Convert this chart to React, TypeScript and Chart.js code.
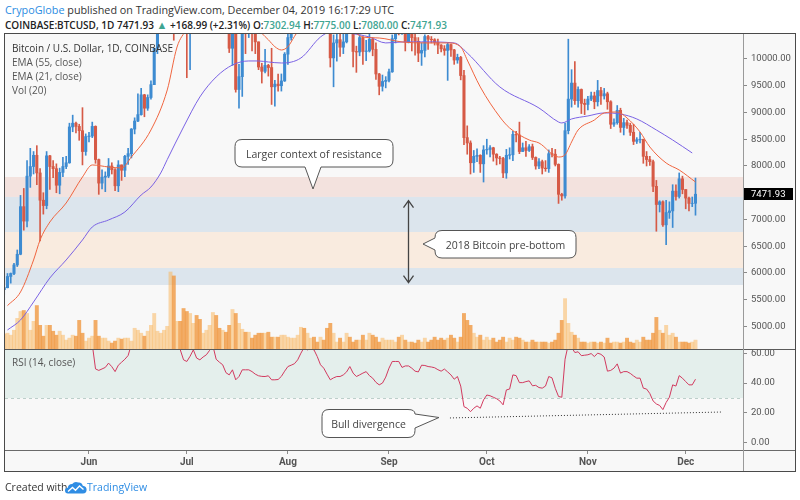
import React, { useEffect, useRef } from 'react';
import { Chart, registerables } from 'chart.js';

Chart.register(...registerables);

// ---------------- data (day index 0 = 2019-05-06, daily candles) ----------------
const firstDay = '2019-05-06';

const opens = [
  5690, 5725, 5935, 5990, 6150, 6350, 7240, 6970, 7810, 7990,
  8200, 7870, 7360, 7260, 8190, 7990, 7950, 7640, 7880, 7990,
  8060, 8730, 8800, 8740, 8660, 8270, 8550, 8560, 8740, 8120,
  7680, 7790, 7810, 8000, 7930, 7630, 8020, 7920, 8180, 8230,
  8690, 8840, 8960, 9330, 9080, 9280, 9520, 10200, 10700, 10850,
  11020, 11770, 12920, 11160, 12370, 11880, 10820, 10580, 10800, 11980,
  11160, 11000, 11240, 11480, 12300, 12560, 12110, 11350, 11800, 11380,
  10200, 10860, 9430, 9670, 10640, 10530, 10760, 10590, 10320, 9850,
  9770, 9880, 9840, 9480, 9530, 9500, 9590, 10090, 10400, 10530,
  10820, 10980, 11800, 11470, 11980, 11990, 11860, 11290, 11550, 11390,
  10860, 10020, 10300, 10360, 10220, 10320, 10920, 10760, 10140, 10130,
  10400, 10140, 10150, 10370, 10180, 9720, 9490, 9580, 9600, 9760,
  10380, 10620, 10580, 10590, 10320, 10490, 10400, 10330, 10110, 10160,
  10420, 10370, 10360, 10310, 10260, 10190, 10160, 10270, 10170, 9980,
  10030, 9690, 8530, 8430, 8060, 8180, 8200, 8040, 8300, 8310,
  8340, 8220, 8150, 8140, 7870, 8200, 8210, 8590, 8580, 8270,
  8340, 8290, 8360, 8160, 8000, 8080, 7960, 7950, 8230, 8220,
  8030, 7470, 7440, 8660, 9250, 9550, 9220, 9430, 9170, 9150,
  9250, 9310, 9200, 9410, 9310, 9350, 9200, 8780, 8810, 9040,
  8720, 8810, 8760, 8630, 8460, 8490, 8500, 8180, 8120, 8080,
  7620, 7280, 7330, 6900, 7130, 7160, 7530, 7430, 7760, 7560,
  7400, 7300, 7302.94,
];
const highs = [
  5800, 5990, 6000, 6180, 6430, 7450, 7580, 8100, 8330, 8270,
  8380, 7950, 7500, 8270, 8200, 8100, 8040, 7960, 8160, 8180,
  8800, 8950, 8820, 8780, 9090, 8600, 8630, 8820, 8750, 8130,
  7930, 7890, 8140, 8060, 7950, 8100, 8020, 8200, 8330, 8700,
  8900, 9350, 9450, 9340, 9330, 9590, 10200, 11200, 11300, 11100,
  11790, 13880, 13400, 12400, 12400, 12200, 11200, 10950, 12000, 12050,
  11450, 11650, 11600, 12350, 12800, 13200, 12120, 11930, 11850, 11450,
  11100, 11030, 9900, 10770, 10740, 11100, 10840, 10680, 10320, 9920,
  10180, 9900, 10200, 9600, 9720, 9720, 10120, 10480, 10680, 10920,
  11100, 12000, 12300, 12100, 12050, 12000, 11950, 11600, 11550, 11470,
  10880, 10450, 10530, 10460, 10480, 10950, 10950, 10770, 10240, 10450,
  10420, 10350, 10620, 10400, 10300, 9730, 9700, 9670, 9810, 10450,
  10800, 10780, 10650, 10890, 10580, 10600, 10490, 10400, 10300, 10450,
  10440, 10420, 10380, 10370, 10270, 10250, 10300, 10280, 10180, 10090,
  10050, 9790, 8750, 8470, 8290, 8320, 8210, 8380, 8500, 8380,
  8350, 8230, 8180, 8160, 8310, 8340, 8650, 8650, 8820, 8430,
  8460, 8400, 8410, 8170, 8140, 8110, 8100, 8300, 8330, 8310,
  8040, 7490, 8800, 10370, 9800, 9950, 9480, 9440, 9250, 9300,
  9380, 9380, 9600, 9470, 9450, 9380, 9220, 8880, 9130, 9080,
  8890, 8860, 8800, 8780, 8530, 8630, 8500, 8270, 8180, 8110,
  7730, 7350, 7350, 7360, 7330, 7650, 7650, 7870, 7810, 7560,
  7420, 7420, 7775,
];
const lows = [
  5600, 5720, 5810, 5970, 6120, 6340, 6800, 6860, 7600, 7850,
  7650, 6600, 7100, 7200, 7560, 7780, 7500, 7480, 7800, 7950,
  8050, 8640, 8620, 8480, 8020, 8200, 8450, 8530, 8050, 7470,
  7570, 7520, 7780, 7850, 7540, 7520, 7730, 7800, 8030, 8150,
  8600, 8830, 8950, 8920, 9040, 9250, 9520, 10100, 10550, 10600,
  11000, 11700, 10350, 10850, 11500, 10800, 9650, 9800, 10780, 11050,
  10800, 10980, 11000, 11400, 12150, 11600, 11000, 11100, 10850, 10120,
  9880, 9380, 9080, 9300, 10100, 10400, 10150, 10100, 9800, 9550,
  9740, 9680, 9150, 9120, 9400, 9400, 9580, 9900, 10350, 10510,
  10560, 10980, 11250, 11400, 11600, 11700, 11150, 11120, 11250, 10800,
  9850, 9480, 9960, 10050, 10100, 10300, 10600, 9850, 9750, 10060,
  9900, 9970, 10130, 10060, 9620, 9330, 9400, 9460, 9570, 9750,
  10300, 10450, 10460, 10150, 10300, 10150, 10070, 9950, 9880, 10040,
  10180, 10300, 10260, 10100, 10130, 10070, 9600, 10050, 9900, 9920,
  9610, 8400, 8220, 7850, 7880, 8080, 7880, 7700, 8220, 8170,
  8090, 8020, 8040, 7780, 7770, 8130, 8100, 8450, 8230, 8270,
  8180, 8270, 8120, 7940, 7950, 7850, 7900, 7880, 8170, 8000,
  7300, 7360, 7400, 8600, 9100, 9150, 9100, 8980, 8960, 9050,
  9220, 9070, 9120, 9150, 9250, 9060, 8700, 8740, 8780, 8630,
  8580, 8700, 8570, 8400, 8420, 8430, 8050, 8000, 8010, 7520,
  6780, 7140, 6870, 6530, 7020, 6850, 7360, 7400, 7480, 7200,
  7160, 7240, 7080,
];
const closes = [
  5725, 5935, 5990, 6150, 6350, 7240, 6970, 7810, 7990, 8200,
  7870, 7360, 7260, 8190, 7990, 7950, 7640, 7880, 7990, 8060,
  8730, 8800, 8740, 8660, 8270, 8550, 8560, 8740, 8120, 7680,
  7790, 7810, 8000, 7930, 7630, 8020, 7920, 8180, 8230, 8690,
  8840, 8960, 9330, 9080, 9280, 9520, 10200, 10700, 10850, 11020,
  11770, 12920, 11160, 12370, 11880, 10820, 10580, 10800, 11980, 11160,
  11000, 11240, 11480, 12300, 12560, 12110, 11350, 11800, 11380, 10200,
  10860, 9430, 9670, 10640, 10530, 10760, 10590, 10320, 9850, 9770,
  9880, 9840, 9480, 9530, 9500, 9590, 10090, 10400, 10530, 10820,
  10980, 11800, 11470, 11980, 11990, 11860, 11290, 11550, 11390, 10860,
  10020, 10300, 10360, 10220, 10320, 10920, 10760, 10140, 10130, 10400,
  10140, 10150, 10370, 10180, 9720, 9490, 9580, 9600, 9760, 10380,
  10620, 10580, 10590, 10320, 10490, 10400, 10330, 10110, 10160, 10420,
  10370, 10360, 10310, 10260, 10190, 10160, 10270, 10170, 9980, 10030,
  9690, 8530, 8430, 8060, 8180, 8200, 8040, 8300, 8310, 8340,
  8220, 8150, 8140, 7870, 8200, 8210, 8590, 8580, 8270, 8340,
  8290, 8360, 8160, 8000, 8080, 7960, 7950, 8230, 8220, 8030,
  7470, 7440, 8660, 9250, 9550, 9220, 9430, 9170, 9150, 9250,
  9310, 9200, 9410, 9310, 9350, 9200, 8780, 8810, 9040, 8720,
  8810, 8760, 8630, 8460, 8490, 8500, 8180, 8120, 8080, 7620,
  7280, 7330, 6900, 7130, 7160, 7530, 7430, 7760, 7560, 7400,
  7300, 7302.94, 7471.93,
];
// daily volume (thousand BTC)
const volumes = [
  15, 16, 14, 19, 31, 38, 39, 36, 19, 28,
  44, 24, 13, 24, 24, 18, 14, 18, 14, 9,
  11, 14, 13, 29, 16, 8, 11, 13, 29, 13,
  11, 11, 8, 6, 8, 11, 10, 11, 11, 8,
  21, 19, 16, 13, 18, 24, 36, 18, 16, 19,
  23, 78, 74, 28, 28, 41, 38, 36, 26, 34,
  30, 16, 19, 24, 37, 34, 21, 19, 17, 24,
  40, 36, 26, 20, 17, 17, 11, 14, 16, 16,
  16, 17, 12, 12, 12, 14, 14, 12, 11, 11,
  14, 22, 21, 16, 11, 12, 7, 12, 9, 21,
  26, 16, 7, 11, 7, 16, 12, 7, 9, 9,
  14, 9, 16, 14, 12, 7, 11, 9, 9, 9,
  7, 12, 14, 9, 7, 7, 6, 9, 7, 11,
  7, 9, 12, 9, 11, 9, 11, 14, 11, 7,
  12, 36, 29, 24, 16, 12, 14, 9, 12, 9,
  11, 7, 9, 12, 7, 11, 9, 12, 11, 9,
  7, 7, 9, 7, 7, 7, 7, 6, 7, 9,
  16, 29, 51, 26, 17, 14, 11, 7, 7, 6,
  7, 7, 6, 7, 6, 11, 6, 7, 7, 6,
  7, 11, 7, 6, 9, 7, 12, 9, 9, 16,
  32, 19, 16, 24, 14, 16, 12, 7, 7, 7,
  6, 7, 9,
];
// RSI (14, close)
const rsi = [
  72, 74, 74, 76, 78, 84, 79, 85, 86, 87,
  82, 73, 71, 79, 76, 75, 70, 73, 74, 75,
  80, 81, 80, 78, 70, 73, 67, 66,
  49.5, 48.5, 49.5, 50.5, 53.4, 51, 47.7, 52, 54, 56, 58.5,
  66, 68, 70, 72, 71, 73, 75, 80, 82, 83, 84, 86, 78, 81,
  66,
  62.3, 55.6, 54.5, 58, 62.3, 56.8, 55.6, 57.5, 59, 62, 65,
  56, 54, 52.3, 47, 45.5, 48.9, 42.2, 44.4, 48.9, 48.9, 48.9, 47.7, 46, 44.9,
  44.5, 44.4, 44.9, 42.2, 42.2, 42.4, 44.5, 48, 51.1, 52, 53, 55.6, 60.1,
  64, 62.3, 63, 62.3, 57.8, 52.3, 50, 46,
  42.2, 43.5, 44.4, 44.4, 45.5, 47.5, 51.1, 46.7, 44.4, 45.5, 46.7, 47.7, 45, 43.3, 40.5, 38.8, 40, 44, 50, 54.5, 54.5,
  54.5, 50.5, 51.5, 51.5, 50, 48, 47.5, 52, 51.8, 51.1, 50.8, 50.3, 49, 48, 49.4, 47.5, 45.5, 42.6, 44.4, 38,
  24.2, 23.1, 20.8, 23.1, 24.7, 23.1, 28.7, 32, 31.5, 30.5, 29.5, 28, 25.4,
  35.4, 36, 45.5, 45, 40.3, 40.3, 41, 41.5, 38.2, 38.5, 37, 36.6, 38, 44.4, 43.5, 36.5, 31, 30.5,
  56, 66, 64, 60.5, 61, 58.4, 58.7, 59, 59.8, 57.8, 60.1, 59.3, 57.5,
  48, 48.5, 50, 52.9, 46.7, 47.7, 47.7, 46.5, 44.8, 43.3, 43.3,
  36.6, 36, 33, 28, 26, 25, 22.2, 27, 30.5, 38.8, 38, 45, 43.3, 41, 38.8, 38.8, 42.6,
];
// EMA readings (day index, value)
const ema21Days = [1, 5, 9, 11, 14, 19, 24, 27, 32, 36, 39, 45, 50, 53, 56, 60, 66, 72, 76, 79, 81, 83, 85, 87, 89, 91, 100, 105, 108, 110, 115, 122, 129, 136, 140, 142, 146, 152, 155, 161, 164, 170, 172, 174, 176, 181, 184, 188, 191, 195, 198, 203, 207, 212];
const ema21Vals = [5390, 5645, 6243, 6617, 6953, 7308, 7794, 8019, 7981, 7963, 8168, 8673, 9421, 10224, 10560, 10950, 11300, 11050, 10700, 10480, 10360, 10230, 10168, 10230, 10420, 10600, 10950, 10650, 10480, 10411, 10392, 10318, 10300, 10300, 10224, 9981, 9477, 8916, 8710, 8486, 8430, 8168, 8210, 8449, 8673, 8860, 8991, 9009, 8897, 8636, 8355, 8056, 7925, 7701];
const ema55Days = [1, 5, 9, 14, 19, 24, 27, 32, 37, 42, 45, 48, 50, 55, 60, 65, 70, 75, 78, 81, 85, 91, 97, 100, 106, 112, 117, 122, 128, 138, 142, 152, 164, 170, 171, 174, 179, 184, 189, 194, 200, 205, 211];
const ema55Vals = [4935, 5121, 5458, 5907, 6243, 6617, 6860, 6991, 7140, 7458, 7607, 7869, 8120, 8729, 9290, 9664, 9888, 9963, 9963, 9944, 9925, 10019, 10411, 10500, 10480, 10411, 10300, 10318, 10320, 10300, 10112, 9477, 9084, 8822, 8804, 8879, 8935, 8991, 8972, 8879, 8673, 8486, 8243];

const monthTickDays = [26, 56, 87, 118, 148, 179, 209];
const monthLabels = ['Jun', 'Jul', 'Aug', 'Sep', 'Oct', 'Nov', 'Dec'];
const priceTicks = [5000, 5500, 6000, 6500, 7000, 7500, 8000, 8500, 9000, 9500, 10000];
const rsiTicks = [0, 20, 40, 60];
const rsiBandLow = 30;
const rsiBandHigh = 70;

// horizontal price zones
const zoneHighs = [7794, 7421, 6766, 6093];
const zoneLows = [7421, 6766, 6093, 5776];
const zoneColors = ['#f3e2de', '#dce5ed', '#f9ebdf', '#dce5ed'];

// annotations
const arrowDay = 123.8;
const arrowTop = 7351;
const arrowBottom = 5819;
const divergenceDays = [136.7, 220.4];
const divergenceVals = [16.6, 20.6];

// ---------------- view settings ----------------
const X_MIN = 0.24;
const X_MAX = 226.57;
const PRICE_MIN = 4579;
const PRICE_MAX = 10467;
const VOL_MAX = 319;
const RSI_MIN = -4.9;
const RSI_MAX = 62.2;

const UP = '#3d8bd1';
const DOWN = '#d65a46';
const VOL_UP = 'rgba(250,180,90,0.52)';
const VOL_DOWN = 'rgba(240,150,60,0.78)';
const AXIS_FONT = { family: 'Roboto, "Liberation Sans", sans-serif', size: 9.5 };
const TEXT_FONT = '"Open Sans", "Noto Sans", sans-serif';

function fitVertical(scale: any) {
  scale.width = 52;
  scale.paddingTop = 0;
  scale.paddingBottom = 0;
}

const zonesPlugin = {
  id: 'zones',
  beforeDatasetsDraw(chart: any) {
    const { ctx, chartArea: a, scales } = chart;
    const y = scales.y;
    ctx.save();
    zoneHighs.forEach((hi, k) => {
      const t = y.getPixelForValue(hi);
      const b = y.getPixelForValue(zoneLows[k]);
      ctx.fillStyle = zoneColors[k];
      ctx.fillRect(a.left, t, a.right - a.left, b - t);
    });
    ctx.restore();
  },
};

const arrowPlugin = {
  id: 'arrow',
  afterDatasetsDraw(chart: any) {
    const { ctx, scales } = chart;
    const x = Math.round(scales.x.getPixelForValue(arrowDay)) + 0.5;
    const t = scales.y.getPixelForValue(arrowTop);
    const b = scales.y.getPixelForValue(arrowBottom);
    ctx.save();
    ctx.strokeStyle = '#444';
    ctx.lineWidth = 1.3;
    ctx.beginPath();
    ctx.moveTo(x, t);
    ctx.lineTo(x, b);
    ctx.moveTo(x - 5, t + 7);
    ctx.lineTo(x, t);
    ctx.lineTo(x + 5, t + 7);
    ctx.moveTo(x - 5, b - 7);
    ctx.lineTo(x, b);
    ctx.lineTo(x + 5, b - 7);
    ctx.stroke();
    ctx.restore();
  },
};

const lastPricePlugin = {
  id: 'lastPrice',
  afterDraw(chart: any) {
    const { ctx, chartArea: a, scales } = chart;
    const v = closes[closes.length - 1];
    const y = Math.round(scales.y.getPixelForValue(v));
    ctx.save();
    ctx.fillStyle = '#000';
    ctx.fillRect(a.right + 1, y - 6, 49, 12);
    ctx.fillStyle = '#fff';
    ctx.font = '9.5px Roboto, "Liberation Sans", sans-serif';
    ctx.textBaseline = 'middle';
    ctx.textAlign = 'left';
    ctx.fillText(v.toFixed(2), a.right + 8, y + 0.5);
    ctx.restore();
  },
};

const rsiBandPlugin = {
  id: 'rsiBand',
  beforeDatasetsDraw(chart: any) {
    const { ctx, chartArea: a, scales } = chart;
    const y = scales.y;
    const t = Math.max(y.getPixelForValue(rsiBandHigh), a.top);
    const b = y.getPixelForValue(rsiBandLow);
    ctx.save();
    ctx.fillStyle = '#e4efec';
    ctx.fillRect(a.left, t, a.right - a.left, b - t);
    ctx.strokeStyle = '#bccfca';
    ctx.lineWidth = 1;
    ctx.setLineDash([3, 3]);
    ctx.beginPath();
    ctx.moveTo(a.left, Math.round(b) + 0.5);
    ctx.lineTo(a.right, Math.round(b) + 0.5);
    ctx.stroke();
    ctx.restore();
  },
};

export default function App() {
  const topRef = useRef<HTMLCanvasElement>(null);
  const botRef = useRef<HTMLCanvasElement>(null);

  useEffect(() => {
    const days = closes.map((_, i) => i);
    const candleColors = days.map((i) => (closes[i] >= opens[i] ? UP : DOWN));
    const volColors = days.map((i) => (closes[i] >= opens[i] ? VOL_UP : VOL_DOWN));

    const top = new Chart(topRef.current as HTMLCanvasElement, {
      type: 'bar',
      data: {
        datasets: [
          {
            type: 'line',
            label: 'EMA (21, close)',
            data: ema21Days.map((d, k) => ({ x: d, y: ema21Vals[k] })),
            borderColor: '#f0653f',
            borderWidth: 1,
            pointRadius: 0,
            cubicInterpolationMode: 'monotone',
            yAxisID: 'y',
            order: 0,
          } as any,
          {
            type: 'line',
            label: 'EMA (55, close)',
            data: ema55Days.map((d, k) => ({ x: d, y: ema55Vals[k] })),
            borderColor: '#7a62e4',
            borderWidth: 1,
            pointRadius: 0,
            cubicInterpolationMode: 'monotone',
            yAxisID: 'y',
            order: 0,
          } as any,
          {
            type: 'bar',
            label: 'body',
            data: days.map((i) => ({ x: i, y: [opens[i], closes[i]] })),
            backgroundColor: candleColors,
            barThickness: 2.4,
            grouped: false,
            yAxisID: 'y',
            order: 1,
          } as any,
          {
            type: 'bar',
            label: 'wick',
            data: days.map((i) => ({ x: i, y: [lows[i], highs[i]] })),
            backgroundColor: candleColors,
            barThickness: 1,
            grouped: false,
            yAxisID: 'y',
            order: 2,
          } as any,
          {
            type: 'bar',
            label: 'Vol (20)',
            data: days.map((i) => ({ x: i, y: volumes[i] })),
            backgroundColor: volColors,
            barThickness: 3.26,
            grouped: false,
            yAxisID: 'yVol',
            order: 3,
          } as any,
        ],
      },
      options: {
        animation: false,
        responsive: false,
        maintainAspectRatio: false,
        events: [],
        layout: { padding: 0 },
        plugins: { legend: { display: false }, tooltip: { enabled: false } },
        scales: {
          x: { type: 'linear', min: X_MIN, max: X_MAX, display: false, offset: false, grid: { offset: false } },
          y: {
            type: 'linear',
            position: 'right',
            min: PRICE_MIN,
            max: PRICE_MAX,
            afterBuildTicks: (ax: any) => {
              ax.ticks = priceTicks.map((v) => ({ value: v }));
            },
            afterFit: fitVertical,
            grid: { drawOnChartArea: false, drawTicks: true, tickLength: 4, color: '#8a8a8a' },
            border: { display: false },
            ticks: {
              padding: 4,
              color: '#555',
              font: AXIS_FONT,
              autoSkip: false,
              callback: (v: any) => Number(v).toFixed(2),
            },
          },
          yVol: { type: 'linear', display: false, min: 0, max: VOL_MAX },
        },
      } as any,
      plugins: [zonesPlugin, arrowPlugin, lastPricePlugin],
    });

    const bot = new Chart(botRef.current as HTMLCanvasElement, {
      type: 'line',
      data: {
        datasets: [
          {
            label: 'RSI (14, close)',
            data: days.map((i) => ({ x: i, y: rsi[i] })),
            borderColor: '#d23a5f',
            borderWidth: 1,
            pointRadius: 0,
          },
          {
            label: 'Bull divergence',
            data: divergenceDays.map((d, k) => ({ x: d, y: divergenceVals[k] })),
            borderColor: '#333',
            borderWidth: 1,
            borderDash: [1, 2],
            pointRadius: 0,
          },
        ],
      },
      options: {
        animation: false,
        responsive: false,
        maintainAspectRatio: false,
        events: [],
        layout: { padding: { top: 10, left: 0, right: 0, bottom: 0 } },
        plugins: { legend: { display: false }, tooltip: { enabled: false } },
        scales: {
          x: {
            type: 'linear',
            min: X_MIN,
            max: X_MAX,
            offset: false,
            afterBuildTicks: (ax: any) => {
              ax.ticks = monthTickDays.map((v) => ({ value: v }));
            },
            afterFit: (s: any) => {
              s.height = 20;
              s.paddingLeft = 0;
              s.paddingRight = 0;
            },
            grid: { drawOnChartArea: false, drawTicks: true, tickLength: 4, color: '#8a8a8a' },
            border: { display: false },
            ticks: {
              padding: 2,
              color: '#555',
              font: { ...AXIS_FONT, size: 10, weight: 'bold' },
              autoSkip: false,
              maxRotation: 0,
              callback: (v: any) => {
                const k = monthTickDays.indexOf(Number(v));
                return k >= 0 ? monthLabels[k] : '';
              },
            },
          },
          y: {
            type: 'linear',
            position: 'right',
            min: RSI_MIN,
            max: RSI_MAX,
            afterBuildTicks: (ax: any) => {
              ax.ticks = rsiTicks.map((v) => ({ value: v }));
            },
            afterFit: fitVertical,
            grid: { drawOnChartArea: false, drawTicks: true, tickLength: 4, color: '#8a8a8a' },
            border: { display: false },
            ticks: {
              padding: 4,
              color: '#555',
              font: AXIS_FONT,
              autoSkip: false,
              callback: (v: any) => Number(v).toFixed(2),
            },
          },
        },
      } as any,
      plugins: [rsiBandPlugin],
    });

    return () => {
      top.destroy();
      bot.destroy();
    };
  }, []);

  const abs = (s: React.CSSProperties): React.CSSProperties => ({ position: 'absolute', ...s });
  const teal = '#3fa592';

  return (
    <div
      style={{
        position: 'fixed',
        left: 0,
        top: 0,
        width: 800,
        height: 500,
        background: '#fff',
        overflow: 'hidden',
        fontFamily: TEXT_FONT,
      }}
    >
      {/* header */}
      <div style={abs({ left: 5, top: 2, fontSize: 10.8, lineHeight: '15px', color: '#333', whiteSpace: 'nowrap' })}>
        <span style={{ color: '#2a8ce2' }}>CrypoGlobe</span> published on TradingView.com, December 04, 2019 16:17:29 UTC
      </div>
      <div style={abs({ left: 5, top: 17, fontSize: 10, lineHeight: '15px', color: '#222', fontWeight: 600, whiteSpace: 'nowrap' })}>
        COINBASE:BTCUSD, 1D 7471.93 <span style={{ color: teal, fontSize: 11 }}>▲</span> +168.99 (+2.31%) O:<span style={{ color: teal }}>7302.94</span> H:
        <span style={{ color: teal }}>7775.00</span> L:<span style={{ color: teal }}>7080.00</span> C:
        <span style={{ color: teal }}>7471.93</span>
      </div>

      {/* frame */}
      <div
        style={abs({
          left: 4,
          top: 33,
          width: 792,
          height: 439,
          border: '1px solid #4a4a4a',
          boxSizing: 'border-box',
          background: '#f8f8f8',
        })}
      />
      <canvas ref={topRef} width={790} height={315} style={abs({ left: 5, top: 34, width: 790, height: 315 })} />
      <canvas ref={botRef} width={790} height={130} style={abs({ left: 5, top: 340, width: 790, height: 130 })} />

      {/* pane separators and price-axis line */}
      <div style={abs({ left: 5, top: 349, width: 790, height: 1, background: '#5a5a5a' })} />
      <div style={abs({ left: 5, top: 450, width: 790, height: 1, background: '#6a6a6a' })} />
      <div style={abs({ left: 743, top: 34, width: 1, height: 437, background: '#9a9a9a' })} />

      {/* pane legends */}
      <div style={abs({ left: 12, top: 41, fontSize: 10, lineHeight: '14px', color: '#333', whiteSpace: 'nowrap' })}>
        <div>Bitcoin / U.S. Dollar, 1D, COINBASE</div>
        <div style={{ color: '#555' }}>EMA (55, close)</div>
        <div style={{ color: '#555' }}>EMA (21, close)</div>
        <div style={{ color: '#555' }}>Vol (20)</div>
      </div>
      <div style={abs({ left: 12, top: 355, fontSize: 10, lineHeight: '14px', color: '#555', whiteSpace: 'nowrap' })}>
        RSI (14, close)
      </div>

      {/* callouts */}
      <svg width={800} height={500} style={abs({ left: 0, top: 0, pointerEvents: 'none' })}>
        <g fill="#fff" stroke="#555" strokeWidth={1}>
          <path d="M242 139.5 H386 Q393 139.5 393 146.5 V160 Q393 167 386 167 H321 L313 189 L305 167 H242 Q235 167 235 160 V146.5 Q235 139.5 242 139.5 Z" />
          <path d="M442 230.5 H569 Q576 230.5 576 237.5 V251 Q576 258 569 258 H442 Q435 258 435 251 V250 L423 244 L435 238 V237.5 Q435 230.5 442 230.5 Z" />
          <path d="M329 409.5 H408 Q415 409.5 415 414 L439 417.5 L415 428 V430.5 Q415 437.5 408 437.5 H329 Q322 437.5 322 430.5 V416.5 Q322 409.5 329 409.5 Z" />
        </g>
        <g fill="#444" fontFamily={TEXT_FONT} fontSize={10.5} textAnchor="middle" dominantBaseline="central">
          <text x={314} y={153.5}>Larger context of resistance</text>
          <text x={505.5} y={244.5}>2018 Bitcoin pre-bottom</text>
          <text x={368.5} y={423.5}>Bull divergence</text>
        </g>
      </svg>

      {/* footer */}
      <div style={abs({ left: 5, top: 479, fontSize: 10.5, lineHeight: '16px', color: '#333', whiteSpace: 'nowrap' })}>
        Created with
      </div>
      <svg width={22} height={13} viewBox="0 0 22 13" style={abs({ left: 65, top: 481 })}>
        <path
          d="M3 12.5 Q0 12.5 0 9.6 Q0 7 2.8 6.8 Q3.4 3 7.2 3.1 Q9.6 0 13.4 1.6 Q16.6 1.2 17.8 4.8 Q21.6 5.2 21.6 8.8 Q21.6 12.5 18 12.5 Z"
          fill="#2f8de4"
        />
        <polyline points="3,10.5 7.5,6.5 10.5,9.2 14.5,5 18.5,8.5" fill="none" stroke="#fff" strokeWidth={1.4} />
      </svg>
      <div style={abs({ left: 87, top: 479, fontSize: 10.5, lineHeight: '16px', color: '#2f8de4', whiteSpace: 'nowrap' })}>
        TradingView
      </div>
    </div>
  );
}
